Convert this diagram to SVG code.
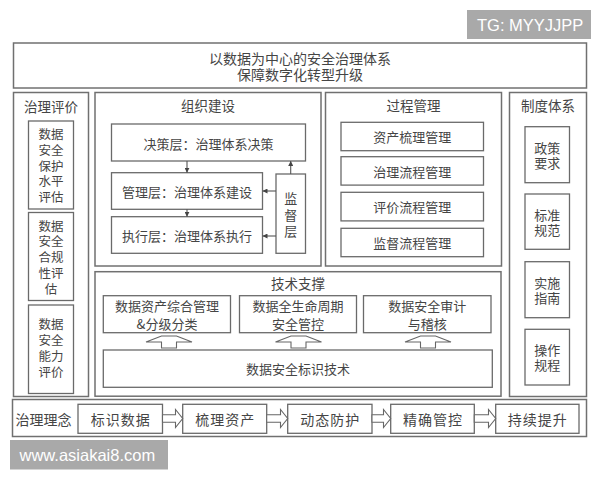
<svg xmlns="http://www.w3.org/2000/svg" width="600" height="480" viewBox="0 0 600 480">
<defs>
<style>
.frame{fill:#fff;stroke:#707070;stroke-width:1.5}
.box{fill:#fff;stroke:#6a6a6a;stroke-width:1.3}
.t{font-family:"Noto Sans CJK SC","Noto Sans CJK JP",sans-serif;font-size:13px;fill:#454545;text-anchor:middle;dominant-baseline:central}
.big{font-size:14px}
.lbl{font-size:13.5px}
.v{font-size:12.5px}
.line{fill:none;stroke:#555;stroke-width:1.1}
.hollow{fill:#fff;stroke:#666;stroke-width:1.1;stroke-linejoin:miter}
.wm{fill:#a9a9a9}
.wmt{font-family:"Liberation Sans",Arial,sans-serif;font-size:16.5px;fill:#fff;dominant-baseline:central}
</style>
<marker id="ah" viewBox="0 0 10 10" refX="10" refY="5" markerWidth="5" markerHeight="5" orient="auto" markerUnits="userSpaceOnUse">
<path d="M0,0 L10,5 L0,10 z" fill="#444"/>
</marker>
</defs>
<rect width="600" height="480" fill="#fff"/>

<g id="watermark-tg">
<rect class="wm" x="467" y="10" width="124" height="29"/>
<text class="wmt" x="477" y="25">TG: MYYJJPP</text>
</g>

<g id="title">
<rect class="frame" x="13.5" y="43" width="573" height="45"/>
<text class="t big"><tspan x="300" y="57.5">以数据为中心的安全治理体系</tspan><tspan x="300" y="74">保障数字化转型升级</tspan></text>
</g>

<g id="col-eval">
<rect class="frame" x="13.5" y="92.5" width="75" height="304"/>
<text class="t lbl" x="51" y="106">治理评价</text>
</g>
<g id="eval-protect">
<rect class="box" x="28.5" y="121" width="45" height="88"/>
<text class="t v"><tspan x="51" y="133">数据</tspan><tspan x="51" y="148.8">安全</tspan><tspan x="51" y="164.6">保护</tspan><tspan x="51" y="180.4">水平</tspan><tspan x="51" y="196.2">评估</tspan></text>
</g>
<g id="eval-compliance">
<rect class="box" x="28.5" y="212.5" width="45" height="88"/>
<text class="t v"><tspan x="51" y="224.5">数据</tspan><tspan x="51" y="240.4">安全</tspan><tspan x="51" y="256.3">合规</tspan><tspan x="51" y="272.2">性评</tspan><tspan x="51" y="288.1">估</tspan></text>
</g>
<g id="eval-capability">
<rect class="box" x="28.5" y="305" width="45" height="88.5"/>
<text class="t v"><tspan x="51" y="323">数据</tspan><tspan x="51" y="339">安全</tspan><tspan x="51" y="355">能力</tspan><tspan x="51" y="371">评价</tspan></text>
</g>

<g id="col-org">
<rect class="frame" x="95" y="92.5" width="226" height="173.5"/>
<text class="t lbl" x="208" y="104.5">组织建设</text>
</g>
<g id="org-decide">
<rect class="box" x="111.5" y="124" width="194" height="37"/>
<text class="t" x="208.5" y="143">决策层：治理体系决策</text>
</g>
<g id="org-manage">
<rect class="box" x="111.5" y="172.7" width="151" height="36.6"/>
<text class="t" x="187" y="191">管理层：治理体系建设</text>
</g>
<g id="org-exec">
<rect class="box" x="111.5" y="216.7" width="151" height="36.6"/>
<text class="t" x="187" y="235">执行层：治理体系执行</text>
</g>
<g id="org-supervise">
<rect class="box" x="276" y="174" width="29.5" height="79.3"/>
<text class="t"><tspan x="290.7" y="197">监</tspan><tspan x="290.7" y="213.5">督</tspan><tspan x="290.7" y="230">层</tspan></text>
</g>

<g id="col-process">
<rect class="frame" x="325.5" y="92.5" width="176" height="173.5"/>
<text class="t lbl" x="413.5" y="105">过程管理</text>
</g>
<g id="proc-asset">
<rect class="box" x="341" y="122.3" width="142.5" height="28.4"/>
<text class="t" x="412.2" y="136.5">资产梳理管理</text>
</g>
<g id="proc-governance">
<rect class="box" x="341" y="156.7" width="142.5" height="28.4"/>
<text class="t" x="412.2" y="171">治理流程管理</text>
</g>
<g id="proc-evaluation">
<rect class="box" x="341" y="192.3" width="142.5" height="28.6"/>
<text class="t" x="412.2" y="206.6">评价流程管理</text>
</g>
<g id="proc-supervision">
<rect class="box" x="341" y="228.3" width="142.5" height="28.4"/>
<text class="t" x="412.2" y="242.5">监督流程管理</text>
</g>

<g id="col-system">
<rect class="frame" x="509.5" y="92.5" width="77" height="304"/>
<text class="t lbl" x="548" y="105">制度体系</text>
</g>
<g id="sys-policy">
<rect class="box" x="525" y="126.7" width="44.5" height="56"/>
<text class="t"><tspan x="547.2" y="146.7">政策</tspan><tspan x="547.2" y="161.8">要求</tspan></text>
</g>
<g id="sys-standard">
<rect class="box" x="525" y="194" width="44.5" height="55.3"/>
<text class="t"><tspan x="547.2" y="214">标准</tspan><tspan x="547.2" y="229.3">规范</tspan></text>
</g>
<g id="sys-guide">
<rect class="box" x="525" y="261.7" width="44.5" height="56"/>
<text class="t"><tspan x="547.2" y="281.7">实施</tspan><tspan x="547.2" y="296.8">指南</tspan></text>
</g>
<g id="sys-procedure">
<rect class="box" x="525" y="329.3" width="44.5" height="55.7"/>
<text class="t"><tspan x="547.2" y="349">操作</tspan><tspan x="547.2" y="364.3">规程</tspan></text>
</g>

<g id="col-tech">
<rect class="frame" x="95" y="271.7" width="406" height="124.5"/>
<text class="t lbl" x="298" y="283">技术支撑</text>
</g>
<g id="tech-asset">
<rect class="box" x="103.3" y="295.7" width="127.2" height="37"/>
<text class="t"><tspan x="167" y="305">数据资产综合管理</tspan><tspan x="167" y="322.5">&amp;分级分类</tspan></text>
</g>
<g id="tech-lifecycle">
<rect class="box" x="239.5" y="295.7" width="117" height="37"/>
<text class="t"><tspan x="298" y="305">数据全生命周期</tspan><tspan x="298" y="322.5">安全管控</tspan></text>
</g>
<g id="tech-audit">
<rect class="box" x="363.5" y="295.7" width="127.5" height="37"/>
<text class="t"><tspan x="427.3" y="305">数据安全审计</tspan><tspan x="427.3" y="322.5">与稽核</tspan></text>
</g>
<g id="tech-label">
<rect class="box" x="103.3" y="350" width="389" height="37.3"/>
<text class="t" x="298" y="368.5">数据安全标识技术</text>
</g>

<g id="bottom-row">
<rect class="frame" x="12.5" y="399.5" width="574" height="37"/>
<text class="t big" x="43.5" y="419">治理理念</text>
</g>
<g id="step-identify">
<rect class="box" x="78" y="404.3" width="84.5" height="29"/>
<text class="t big" x="120.7" y="419" letter-spacing="1">标识数据</text>
</g>
<g id="step-sort">
<rect class="box" x="182.7" y="404.3" width="84" height="29"/>
<text class="t big" x="225.2" y="419" letter-spacing="1">梳理资产</text>
</g>
<g id="step-protect">
<rect class="box" x="287.7" y="404.3" width="84.3" height="29"/>
<text class="t big" x="330.3" y="419" letter-spacing="1">动态防护</text>
</g>
<g id="step-control">
<rect class="box" x="390.7" y="404.3" width="83.6" height="29"/>
<text class="t big" x="433" y="419" letter-spacing="1">精确管控</text>
</g>
<g id="step-improve">
<rect class="box" x="495.7" y="404.3" width="83.3" height="29"/>
<text class="t big" x="537.8" y="419" letter-spacing="1">持续提升</text>
</g>

<g id="connectors">
<line class="line" x1="187" y1="161" x2="187" y2="172.7" marker-end="url(#ah)"/>
<line class="line" x1="187" y1="209.3" x2="187" y2="216.7" marker-end="url(#ah)"/>
<line class="line" x1="290.7" y1="174" x2="290.7" y2="161" marker-end="url(#ah)"/>
<line class="line" x1="276" y1="191" x2="262.5" y2="191" marker-end="url(#ah)"/>
<line class="line" x1="276" y1="236" x2="262.5" y2="236" marker-end="url(#ah)"/>
<polygon class="hollow" points="161.5,336 176.5,336 192,342 176.5,342 176.5,348 161.5,348 161.5,342 146,342"/>
<polygon class="hollow" points="291,336 306,336 321.5,342 306,342 306,348 291,348 291,342 275.5,342"/>
<polygon class="hollow" points="420.5,336 435.5,336 451,342 435.5,342 435.5,348 420.5,348 420.5,342 405,342"/>
<polygon class="hollow" points="162.5,414.7 175.5,414.7 175.5,409.5 182.7,418.5 175.5,427.5 175.5,422.3 162.5,422.3"/>
<polygon class="hollow" points="266.7,414.7 280.5,414.7 280.5,409.5 287.7,418.5 280.5,427.5 280.5,422.3 266.7,422.3"/>
<polygon class="hollow" points="372,414.7 383.5,414.7 383.5,409.5 390.7,418.5 383.5,427.5 383.5,422.3 372,422.3"/>
<polygon class="hollow" points="474.3,414.7 488.5,414.7 488.5,409.5 495.7,418.5 488.5,427.5 488.5,422.3 474.3,422.3"/>
</g>

<g id="watermark-www">
<rect class="wm" x="10" y="440" width="158" height="29.5"/>
<text class="wmt" x="19.5" y="455">www.asiakai8.com</text>
</g>
</svg>
